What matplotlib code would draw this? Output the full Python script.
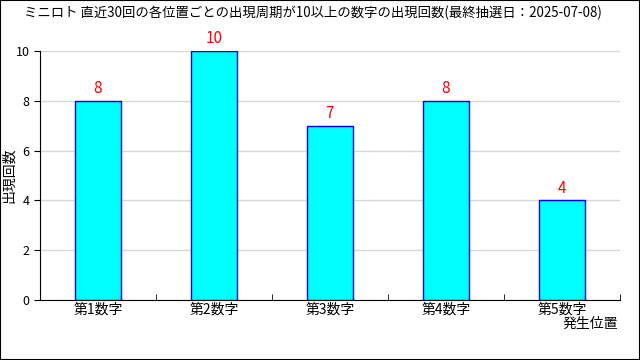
import matplotlib
matplotlib.use('Agg')
import matplotlib.pyplot as plt
import numpy as np

plt.rcParams['font.family'] = ['Noto Sans CJK JP', 'DejaVu Sans']

categories = ['第1数字', '第2数字', '第3数字', '第4数字', '第5数字']
counts = [8, 10, 7, 8, 4]
title = 'ミニロト 直近30回の各位置ごとの出現周期が10以上の数字の出現回数(最終抽選日：2025-07-08)'

fig = plt.figure(figsize=(6.4, 3.6), dpi=100)
ax = fig.add_axes([40/640, 60/360, 580/640, 249/360])

x = np.arange(len(categories))
ax.bar(x, counts, width=0.4, color='#00ffff', edgecolor='#0000ff', linewidth=1, zorder=3)
for xi, c in zip(x, counts):
    ax.text(xi, c + 0.15, str(c), color='red', ha='center', va='bottom', fontsize=11)

ax.set_xlim(-0.5, len(categories) - 0.5)
ax.set_ylim(0, 10)
ax.set_yticks(range(0, 11, 2))
ax.yaxis.grid(True, color='#d8d8d8', linewidth=1, zorder=0)
ax.set_xticks(x)
ax.set_xticklabels(categories, fontsize=10)
ax.tick_params(axis='x', length=0, pad=2)
ax.set_xticks(np.arange(-0.5, len(categories) + 0.1), minor=True)
ax.tick_params(axis='x', which='minor', direction='in', length=4)
ax.tick_params(axis='y', labelsize=9, length=4, direction='out')
for s in ['top', 'right']:
    ax.spines[s].set_visible(False)

fig.text(9/640, 1 - 175/360, '出現回数', rotation=90, ha='center', va='center', fontsize=10)
fig.text(618/640, 1 - 324/360, '発生位置', ha='right', va='center', fontsize=10)
fig.text(313/640, 1 - 13/360, title, ha='center', va='center', fontsize=9.6)

fig.patches.append(plt.Rectangle((0, 0), 1, 1, transform=fig.transFigure,
                                 fill=False, edgecolor='black', linewidth=1.5))

fig.savefig('out.png', dpi=100)
